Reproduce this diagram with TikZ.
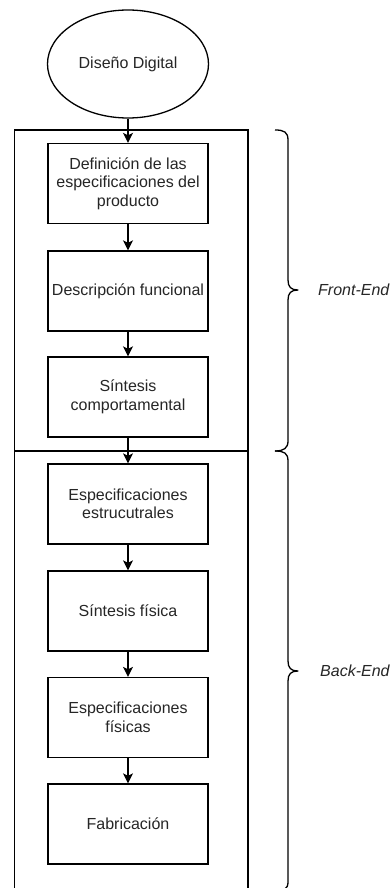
\documentclass[tikz,border=0pt]{standalone}
\usepackage{fontspec}
\setmainfont{Liberation Sans}
\usetikzlibrary{shapes.geometric,arrows.meta}
\begin{document}
\begin{tikzpicture}[x=1pt,y=-1pt,
  ln/.style={line width=1.3pt,draw=black},
  txt/.style={font=\fontsize{16}{18.5}\selectfont,text=black!85,align=center},
  stepbox/.style={ln,txt,rectangle,minimum width=160pt,minimum height=80pt,inner sep=0pt},
  startnode/.style={ln,txt,ellipse,minimum width=161pt,minimum height=108pt,inner sep=0pt},
  conn/.style={ln,-{Stealth[length=10pt,width=10pt,inset=2.5pt]}},
  brace/.style={line width=1.3pt,draw=black,line join=round},
  lbl/.style={font=\fontsize{16}{18.5}\selectfont\itshape,text=black!85,anchor=west,inner sep=0pt}
]
\clip (0,0) rectangle (391,888);
\fill[white] (0,0) rectangle (391,888);

% frame
\draw[ln] (14.5,130) rectangle (248,900);
\draw[ln] (14.5,451) -- (248,451);

% nodes
\node[startnode] (dd) at (128,64) {Diseño Digital};
\node[stepbox] (b1) at (128,183.5) {Definición de las\\especificaciones del\\producto};
\node[stepbox] (b2) at (128,291) {Descripción funcional};
\node[stepbox] (b3) at (128,397) {Síntesis\\comportamental};
\node[stepbox] (b4) at (128,504) {Especificaciones\\estrucutrales};
\node[stepbox] (b5) at (128,611) {Síntesis física};
\node[stepbox] (b6) at (128,717.5) {Especificaciones\\físicas};
\node[stepbox] (b7) at (128,824) {Fabricación};

% connectors
\draw[conn] (dd.south) -- (b1.north);
\draw[conn] (b1.south) -- (b2.north);
\draw[conn] (b2.south) -- (b3.north);
\draw[conn] (b3.south) -- (b4.north);
\draw[conn] (b4.south) -- (b5.north);
\draw[conn] (b5.south) -- (b6.north);
\draw[conn] (b6.south) -- (b7.north);

% braces
\draw[brace] (275,130) .. controls (284,130) and (288,132) .. (288,140)
  -- (288,280) .. controls (288,287) and (291,290) .. (298,290)
  .. controls (291,290) and (288,293) .. (288,300)
  -- (288,441) .. controls (288,448) and (284,451) .. (275,451);
\draw[brace] (275,451) .. controls (284,451) and (288,453) .. (288,461)
  -- (288,661) .. controls (288,668) and (291,671) .. (298,671)
  .. controls (291,671) and (288,674) .. (288,681)
  -- (288,882) .. controls (288,889) and (284,891) .. (275,891);

\node[lbl] (fe) at (318,290) {Front-End};
\node[lbl] (be) at (320,671) {Back-End};
\end{tikzpicture}
\end{document}
